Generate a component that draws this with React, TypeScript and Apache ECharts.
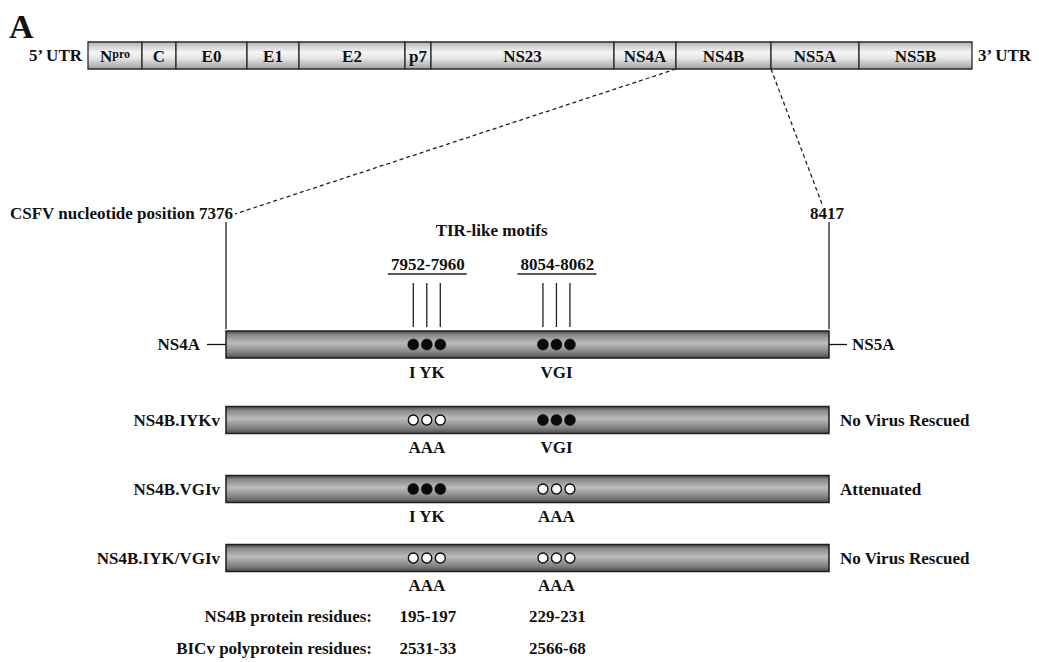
import React, { useEffect, useRef } from 'react';
import * as echarts from 'echarts';

// ---------- data ----------
const genomeSegments = ['Npro', 'C', 'E0', 'E1', 'E2', 'p7', 'NS23', 'NS4A', 'NS4B', 'NS5A', 'NS5B'];
// schematic (not to scale) widths of the genome segments
const genomeSegmentLengths = [54, 34, 71, 52, 106, 26, 183, 62, 95, 88, 113];
const utrLabels = ['5\u2019 UTR', '3\u2019 UTR'];
const ns4bStartNt = '7376';
const ns4bEndNt = '8417';
const flankLabels = ['NS4A', 'NS5A'];
const motifTitle = 'TIR-like motifs';
const motifRanges = ['7952-7960', '8054-8062'];
// schematic position of each motif along the NS4B bar (0-100)
const motifCenters = [33.3, 54.8];
const wildTypeResidues = ['I YK', 'VGI'];
const mutantResidues = 'AAA';
const constructs = ['NS4B.IYKv', 'NS4B.VGIv', 'NS4B.IYK/VGIv'];
const constructMotifIntact = [
  [false, true],
  [true, false],
  [false, false],
];
const outcomes = ['No Virus Rescued', 'Attenuated', 'No Virus Rescued'];
const residueRowLabels = ['NS4B protein residues:', 'BICv polyprotein residues:'];
const ns4bProteinResidues = ['195-197', '229-231'];
const polyproteinResidues = ['2531-33', '2566-68'];

// ---------- styles ----------
const FONT = "'Liberation Serif', 'Times New Roman', Times, serif";
const TXT = '#111';
const TOP_H = 27;
const BAR_H = 27;
const DOT_GAP = 13.5;

const genomeStarts: number[] = [];
genomeSegmentLengths.reduce((acc, l) => {
  genomeStarts.push(acc);
  return acc + l;
}, 0);
const genomeTotal = genomeSegmentLengths.reduce((a, b) => a + b, 0);
const ns4bIdx = genomeSegments.indexOf('NS4B');

const topFill = () =>
  new echarts.graphic.LinearGradient(0, 0, 0, 1, [
    { offset: 0, color: '#b4b4b4' },
    { offset: 0.38, color: '#f6f6f6' },
    { offset: 0.6, color: '#e6e6e6' },
    { offset: 1, color: '#a0a0a0' },
  ]);
const barFill = () =>
  new echarts.graphic.LinearGradient(0, 0, 0, 1, [
    { offset: 0, color: '#4a4a4a' },
    { offset: 0.15, color: '#8a8a8a' },
    { offset: 0.45, color: '#bcbcbc' },
    { offset: 0.8, color: '#808080' },
    { offset: 1, color: '#4e4e4e' },
  ]);

function textEl(text: string, x: number, y: number, extra: any = {}) {
  return {
    type: 'text',
    x,
    y,
    style: {
      text,
      fill: TXT,
      fontFamily: FONT,
      fontWeight: 'bold',
      fontSize: 17,
      align: 'center',
      verticalAlign: 'middle',
      ...extra,
    },
  };
}

function dots(cx: number, cy: number, filled: boolean) {
  const out: any[] = [];
  for (let k = -1; k <= 1; k++) {
    out.push({
      type: 'circle',
      shape: { cx: cx + k * DOT_GAP, cy, r: filled ? 5.5 : 5 },
      style: filled
        ? { fill: '#0a0a0a', stroke: '#0a0a0a', lineWidth: 0.5 }
        : { fill: '#ffffff', stroke: '#111', lineWidth: 1.4 },
    });
  }
  return out;
}

function bar(x: number, y: number, w: number) {
  return {
    type: 'rect',
    shape: { x, y, width: w, height: BAR_H },
    style: { fill: barFill(), stroke: '#1e1e1e', lineWidth: 1.5 },
  };
}

const axisLabelBase = {
  color: TXT,
  fontFamily: FONT,
  fontWeight: 'bold' as const,
  fontSize: 17,
};

const hiddenX = (gridIndex: number, max: number) => ({
  type: 'value',
  gridIndex,
  min: 0,
  max,
  show: false,
});

const catY = (gridIndex: number, data: string[], position: string, extra: any = {}) => ({
  type: 'category',
  gridIndex,
  data,
  position,
  inverse: true,
  axisLine: { show: false },
  axisTick: { show: false },
  splitLine: { show: false },
  ...extra,
  axisLabel: { ...axisLabelBase, ...(extra.axisLabel || {}) },
});

const option: any = {
  animation: false,
  backgroundColor: '#ffffff',
  grid: [
    { left: 88, top: 42, width: 884, height: TOP_H, outerBoundsMode: 'none' },
    { left: 226, top: 331, width: 603, height: BAR_H, outerBoundsMode: 'none' },
    { left: 226, top: 385.5, width: 603, height: 207, outerBoundsMode: 'none' },
    { left: 226, top: 600, width: 603, height: 64, outerBoundsMode: 'none' },
  ],
  xAxis: [hiddenX(0, genomeTotal), hiddenX(1, 100), hiddenX(2, 100), hiddenX(3, 100)],
  yAxis: [
    catY(0, [utrLabels[0]], 'left', { axisLabel: { margin: 6 } }),
    catY(0, [utrLabels[1]], 'right', { axisLabel: { margin: 6 } }),
    catY(1, [flankLabels[0]], 'left', {
      axisTick: { show: true, alignWithLabel: true, length: 19, lineStyle: { color: TXT, width: 1.3 } },
      axisLabel: { margin: 26 },
    }),
    catY(1, [flankLabels[1]], 'right', {
      axisTick: { show: true, alignWithLabel: true, length: 18, lineStyle: { color: TXT, width: 1.3 } },
      axisLabel: { margin: 23 },
    }),
    catY(2, constructs, 'left', { axisLabel: { margin: 6 } }),
    catY(2, constructs, 'right', {
      axisLabel: { margin: 11, formatter: (_v: string, i: number) => outcomes[i] },
    }),
    catY(3, residueRowLabels, 'left', { offset: -152, axisLabel: { margin: 6 } }),
  ],
  series: [
    {
      type: 'custom',
      silent: true,
      xAxisIndex: 0,
      yAxisIndex: 0,
      encode: { x: [0, 1], y: 2 },
      data: genomeSegments.map((_n, i) => [genomeStarts[i], genomeStarts[i] + genomeSegmentLengths[i], 0]),
      renderItem: (params: any, api: any) => {
        const s = api.coord([api.value(0), api.value(2)]);
        const e = api.coord([api.value(1), api.value(2)]);
        const name = genomeSegments[params.dataIndex];
        const top = s[1] - TOP_H / 2;
        const cx = (s[0] + e[0]) / 2;
        const label =
          name === 'Npro'
            ? textEl('{n|N}{s|pro}', cx, s[1] + 1, {
                rich: {
                  n: { fontFamily: FONT, fontWeight: 'bold', fontSize: 17, fill: TXT, verticalAlign: 'bottom', lineHeight: 17 },
                  s: { fontFamily: FONT, fontWeight: 'bold', fontSize: 12, fill: TXT, verticalAlign: 'top', lineHeight: 17 },
                },
              })
            : textEl(name, cx, s[1] + 1);
        return {
          type: 'group',
          children: [
            {
              type: 'rect',
              shape: { x: s[0], y: top, width: e[0] - s[0], height: TOP_H },
              style: { fill: topFill(), stroke: '#2a2a2a', lineWidth: 1.3 },
            },
            label,
          ],
        };
      },
    },
    {
      type: 'custom',
      silent: true,
      xAxisIndex: 1,
      yAxisIndex: 2,
      encode: { x: [0, 1], y: 2 },
      data: [[0, 100, 0]],
      renderItem: (_params: any, api: any) => {
        const s = api.coord([api.value(0), api.value(2)]);
        const e = api.coord([api.value(1), api.value(2)]);
        const top = s[1] - BAR_H / 2;
        const children: any[] = [];
        // end markers
        [s[0], e[0]].forEach((x) => {
          children.push({
            type: 'line',
            shape: { x1: x, y1: top - 109, x2: x, y2: top - 2 },
            style: { stroke: '#222', lineWidth: 1.3 },
          });
        });
        children.push(
          textEl('CSFV nucleotide position ' + ns4bStartNt, s[0] + 7, top - 118, { align: 'right' })
        );
        children.push(textEl(ns4bEndNt, e[0] - 2, top - 118));
        const centers = motifCenters.map((c) => api.coord([c, 0])[0]);
        children.push(textEl(motifTitle, (centers[0] + centers[1]) / 2, top - 101));
        children.push(bar(s[0], top, e[0] - s[0]));
        centers.forEach((cx, m) => {
          for (let k = -1; k <= 1; k++) {
            children.push({
              type: 'line',
              shape: { x1: cx + k * DOT_GAP, y1: top - 48, x2: cx + k * DOT_GAP, y2: top - 4 },
              style: { stroke: '#222', lineWidth: 1.3 },
            });
          }
          children.push(textEl(motifRanges[m], cx + 1, top - 67));
          children.push({
            type: 'line',
            shape: { x1: cx - 39, y1: top - 57, x2: cx + 40, y2: top - 57 },
            style: { stroke: '#222', lineWidth: 1.3 },
          });
          children.push(...dots(cx, s[1], true));
          children.push(textEl(wildTypeResidues[m], cx, top + BAR_H + 14));
        });
        return { type: 'group', children };
      },
    },
    {
      type: 'custom',
      silent: true,
      xAxisIndex: 2,
      yAxisIndex: 4,
      encode: { x: [0, 1], y: 2 },
      data: constructs.map((_c, i) => [0, 100, i]),
      renderItem: (params: any, api: any) => {
        const s = api.coord([api.value(0), api.value(2)]);
        const e = api.coord([api.value(1), api.value(2)]);
        const top = s[1] - BAR_H / 2;
        const intact = constructMotifIntact[params.dataIndex];
        const children: any[] = [bar(s[0], top, e[0] - s[0])];
        motifCenters.forEach((c, m) => {
          const cx = api.coord([c, 0])[0];
          children.push(...dots(cx, s[1], intact[m]));
          children.push(textEl(intact[m] ? wildTypeResidues[m] : mutantResidues, cx, top + BAR_H + 14));
        });
        return { type: 'group', children };
      },
    },
    {
      type: 'custom',
      silent: true,
      xAxisIndex: 3,
      yAxisIndex: 6,
      encode: { x: 0, y: 1 },
      data: residueRowLabels.flatMap((_r, r) => motifCenters.map((c, m) => [c, r, m])),
      renderItem: (_params: any, api: any) => {
        const p = api.coord([api.value(0), api.value(1)]);
        const r = api.value(1);
        const m = api.value(2);
        const txt = (r === 0 ? ns4bProteinResidues : polyproteinResidues)[m];
        return textEl(txt, p[0] + 1, p[1]);
      },
    },
  ],
};

export default function App() {
  const ref = useRef<HTMLDivElement>(null);
  useEffect(() => {
    document.body.style.margin = '0';
    const chart = echarts.init(ref.current as HTMLDivElement, null, { renderer: 'svg' });
    chart.setOption(option);
    const tl = chart.convertToPixel({ gridIndex: 0 } as any, [genomeStarts[ns4bIdx], 0]) as number[];
    const tr = chart.convertToPixel({ gridIndex: 0 } as any, [
      genomeStarts[ns4bIdx] + genomeSegmentLengths[ns4bIdx],
      0,
    ]) as number[];
    const bl = chart.convertToPixel({ gridIndex: 1 } as any, [0, 0]) as number[];
    const br = chart.convertToPixel({ gridIndex: 1 } as any, [100, 0]) as number[];
    const wtTop = bl[1] - BAR_H / 2;
    const dash = { stroke: '#222', lineWidth: 1.3, lineDash: [4, 3] };
    chart.setOption({
      graphic: [
        {
          id: 'panel',
          type: 'text',
          left: 9,
          top: 9,
          style: { text: 'A', fill: TXT, fontFamily: FONT, fontWeight: 'bold', fontSize: 34 },
        },
        {
          id: 'dashL',
          type: 'line',
          shape: { x1: tl[0], y1: tl[1] + TOP_H / 2, x2: bl[0] + 9, y2: wtTop - 117 },
          style: dash,
        },
        {
          id: 'dashR',
          type: 'line',
          shape: { x1: tr[0], y1: tr[1] + TOP_H / 2, x2: br[0] - 7, y2: wtTop - 127 },
          style: dash,
        },
      ],
    });
    return () => chart.dispose();
  }, []);
  return <div ref={ref} style={{ width: 1039, height: 662 }} />;
}
